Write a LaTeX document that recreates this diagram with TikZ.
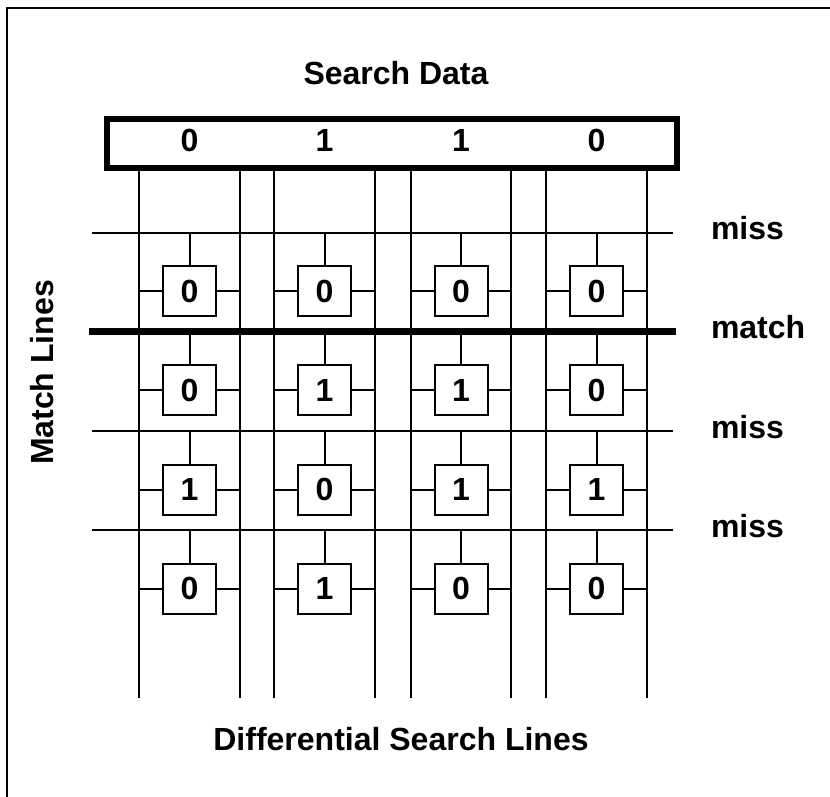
\documentclass[tikz,border=0pt]{standalone}
\usepackage{fontspec}
\setmainfont{Liberation Sans}
\begin{document}
\begin{tikzpicture}[x=1pt,y=-1pt,
  lbl/.style={font=\fontsize{32}{38}\selectfont\bfseries, inner sep=0pt, outer sep=0pt},
  wire/.style={line width=2pt},
  thickwire/.style={line width=6.5pt},
  cell/.style={draw, line width=2pt, minimum width=53pt, minimum height=50pt,
    inner sep=0pt, outer sep=0pt, font=\fontsize{32}{38}\selectfont\bfseries},
  databox/.style={draw, line width=6pt, minimum width=570pt, minimum height=49pt,
    inner sep=0pt, outer sep=0pt}]
\useasboundingbox (0,0) rectangle (830,796);
\clip (0,0) rectangle (830,796);

% outer frame (runs off the right and bottom edges)
\draw[line width=2pt] (6.5,7.5) rectangle (860,830);

% search data register
\node[lbl, anchor=base] (title) at (396,84) {Search Data};
\node[databox] (sd) at (391.5,143.5) {};
\foreach \v [count=\i] in {0,1,1,0} {
  \pgfmathsetmacro{\cx}{{189.5,324.5,461,596.5}[\i-1]}
  \node[lbl, anchor=base] (sd-\i) at (\cx,151.7) {\v};
}

% differential search line pairs
\foreach \x [count=\k] in {139,240,274,375,411,511,546,647} {
  \coordinate (sl-\k-t) at (\x,171);
  \coordinate (sl-\k-b) at (\x,698);
  \draw[wire] (sl-\k-t) -- (sl-\k-b);
}

% match lines
\foreach \y [count=\r] in {232.7,331.7,431,530} {
  \coordinate (ml-\r-w) at (92,\y);
  \coordinate (ml-\r-e) at (673,\y);
}
\coordinate (ml-2-w) at (89,331.7);
\coordinate (ml-2-e) at (676,331.7);
\draw[wire] (ml-1-w) -- (ml-1-e);
\draw[thickwire] (ml-2-w) -- (ml-2-e);
\draw[wire] (ml-3-w) -- (ml-3-e);
\draw[wire] (ml-4-w) -- (ml-4-e);

% match line states
\node[lbl, anchor=base west] (st-1) at (711,239) {miss};
\node[lbl, anchor=base west] (st-2) at (711,338) {match};
\node[lbl, anchor=base west] (st-3) at (711,438) {miss};
\node[lbl, anchor=base west] (st-4) at (711,537) {miss};

% stored cells
\foreach \row [count=\r] in {{0,0,0,0},{0,1,1,0},{1,0,1,1},{0,1,0,0}} {
  \pgfmathsetmacro{\cy}{{291,390,489.5,588.5}[\r-1]}
  \foreach \v [count=\c] in \row {
    \pgfmathsetmacro{\cx}{{189.5,324.5,461,596.5}[\c-1]}
    \pgfmathtruncatemacro{\lft}{2*\c-1}
    \pgfmathtruncatemacro{\rgt}{2*\c}
    \node[cell] (c-\r-\c) at (\cx,\cy) {\v};
    \draw[wire] (c-\r-\c.north |- ml-\r-w) -- (c-\r-\c.north);
    \draw[wire] (sl-\lft-t |- c-\r-\c.west) -- (c-\r-\c.west);
    \draw[wire] (c-\r-\c.east) -- (sl-\rgt-t |- c-\r-\c.east);
  }
}

% axis captions
\node[lbl, anchor=base, rotate=90] (mlcap) at (53,372.5) {Match Lines};
\node[lbl, anchor=base] (slcap) at (401,750) {Differential Search Lines};
\end{tikzpicture}
\end{document}
